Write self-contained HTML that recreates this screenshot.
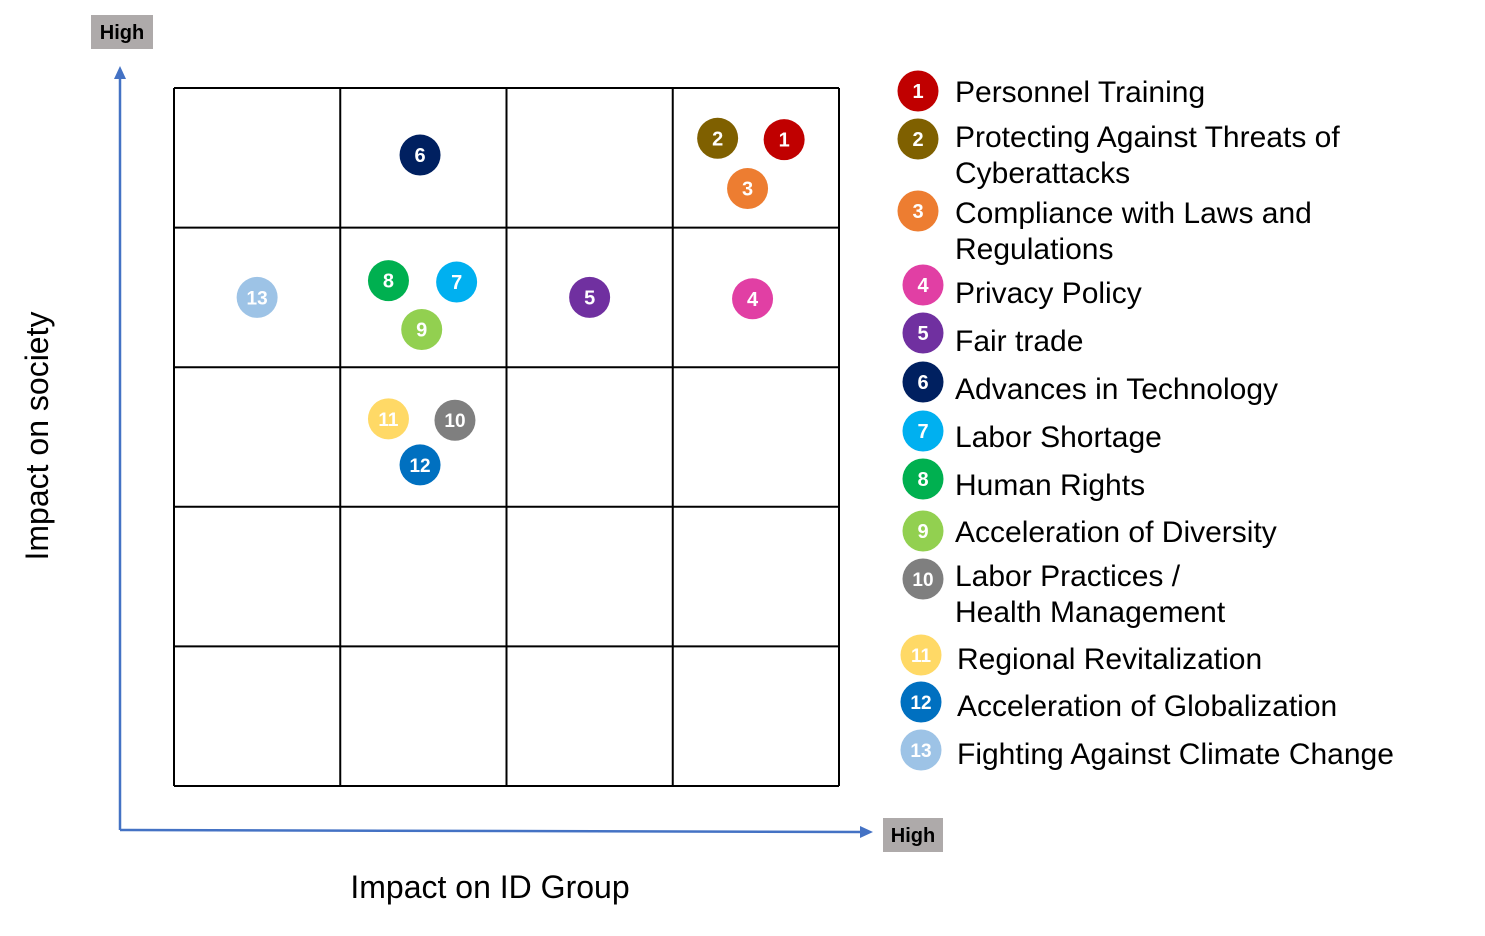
<!DOCTYPE html>
<html><head><meta charset="utf-8"><style>
html,body{margin:0;padding:0;background:#fff;}
body{width:1485px;height:931px;overflow:hidden;font-family:"Liberation Sans",sans-serif;}
</style></head><body>
<svg id="chart" width="1485" height="931" xmlns="http://www.w3.org/2000/svg" font-family="Liberation Sans, DejaVu Sans, sans-serif"></svg>
<script>
const ids = [1,2,3,4,5,6,7,8,9,10,11,12,13];
const xValues = [3.67,3.27,3.45,3.48,2.50,1.48,1.70,1.29,1.49,1.69,1.29,1.48,0.50];
const yValues = [4.63,4.64,4.28,3.49,3.50,4.52,3.61,3.62,3.27,2.62,2.63,2.30,3.50];
const colors = ["#c00000","#7f6000","#ed7d31","#e13fa4","#7030a0","#002060","#00b0f0","#00b050","#92d050","#7f7f7f","#ffd966","#0070c0","#9dc3e6"];
const legendLines = [["Personnel Training"],["Protecting Against Threats of","Cyberattacks"],["Compliance with Laws and","Regulations"],["Privacy Policy"],["Fair trade"],["Advances in Technology"],["Labor Shortage"],["Human Rights"],["Acceleration of Diversity"],["Labor Practices /","Health Management"],["Regional Revitalization"],["Acceleration of Globalization"],["Fighting Against Climate Change"]];
const nCols = 4, nRows = 5;

const svg = document.getElementById('chart');
const NS = "http://www.w3.org/2000/svg";
function mk(tag, attrs, parent){const e=document.createElementNS(NS,tag);for(const k in attrs)e.setAttribute(k,attrs[k]);(parent||svg).appendChild(e);return e;}
const gx0=174,gx1=839,gy0=88,gy1=786;
const xs = v => gx0 + v*(gx1-gx0)/nCols;
const ys = v => gy1 - v*(gy1-gy0)/nRows;

// grid
const grid = mk('g',{});


for(let i=0;i<=nCols;i++){mk('line',{x1:xs(i),x2:xs(i),y1:gy0,y2:gy1,stroke:'#000','stroke-width':2},grid);}
for(let j=0;j<=nRows;j++){mk('line',{x1:gx0,x2:gx1,y1:ys(j),y2:ys(j),stroke:'#000','stroke-width':2},grid);}

// axes
const ax = mk('g',{});


mk('line',{x1:120,y1:830,x2:120,y2:76,stroke:'#4472c4','stroke-width':2.5},ax);
mk('polygon',{points:'120,66 114,79 126,79',fill:'#4472c4'},ax);
mk('line',{x1:120,y1:830,x2:862,y2:832,stroke:'#4472c4','stroke-width':2.5},ax);
mk('polygon',{points:'873,832 860,826 860,838',fill:'#4472c4'},ax);

function highBox(x,y,w,h,name){
  const g=mk('g',{});
  
  
  mk('rect',{x:x,y:y,width:w,height:h,fill:'#aeaaaa'},g);
  const t=mk('text',{x:x+w/2,y:y+h/2+7,'text-anchor':'middle','font-size':20,'font-weight':'bold',fill:'#000'},g);
  t.textContent='High';
}
highBox(91,15,62,34,'y-axis-high-label');
highBox(883,818,60,34,'x-axis-high-label');

const yt=mk('text',{x:0,y:0,transform:'translate(48,436) rotate(-90)','text-anchor':'middle','font-size':32,fill:'#000'});


yt.textContent='Impact on society';
const xt=mk('text',{x:490,y:898,'text-anchor':'middle','font-size':32,fill:'#000'});


xt.textContent='Impact on ID Group';

function badge(cx,cy,i,parent){
  mk('circle',{cx:cx,cy:cy,r:20.5,fill:colors[i]},parent);
  const t=mk('text',{x:cx,y:cy+7,'text-anchor':'middle','font-size':ids[i]>9?19:20,'font-weight':'bold',fill:'#fff'},parent);
  t.textContent=ids[i];
}
// points
ids.forEach((id,i)=>{
  const g=mk('g',{});
  
  
  badge(xs(xValues[i]),ys(yValues[i]),i,g);
});

// legend
const legendCx=[918,918,918,923,923,923,923,923,923,923,921,921,921];
const legendCy=[91,139,211,285,333,382,431,479,531,579,655,702,750];
const legendTy=[[102],[147,183],[223,259],[303],[351],[399],[447],[495],[542],[586,622],[669],[716],[764]];
ids.forEach((id,i)=>{
  const g=mk('g',{});
  
  
  badge(legendCx[i],legendCy[i],i,g);
  legendLines[i].forEach((ln,k)=>{
    const t=mk('text',{x:i>=10?957:955,y:legendTy[i][k],'font-size':30,fill:'#000'},g);
    t.textContent=ln;
  });
});
</script>
</body></html>
